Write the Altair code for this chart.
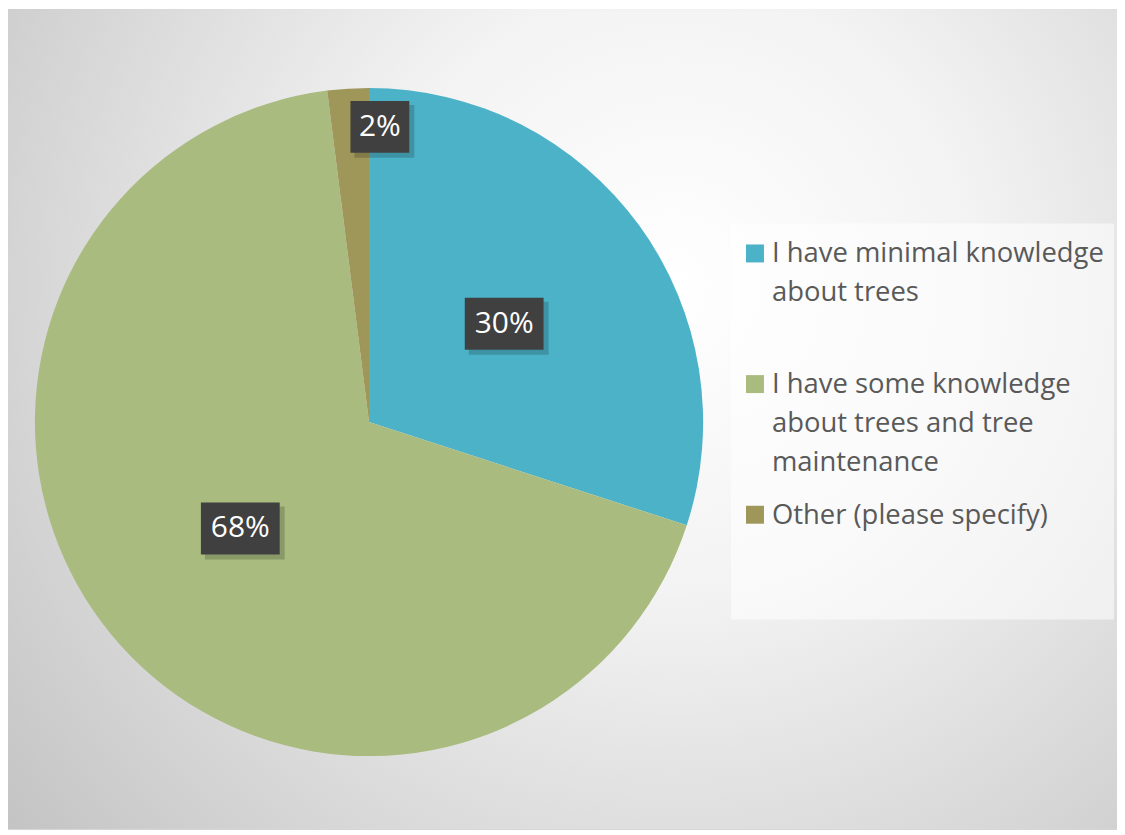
import math
import altair as alt
import pandas as pd

# ---- data ----
categories = [
    "I have minimal knowledge about trees",
    "I have some knowledge about trees and tree maintenance",
    "Other (please specify)",
]
legend_text = [
    "I have minimal knowledge\nabout trees",
    "I have some knowledge\nabout trees and tree\nmaintenance",
    "Other (please specify)",
]
shares = [30, 68, 2]
colors = ["#4BB2C8", "#A9BB7F", "#9F965A"]

# ---- layout ----
W, H = 1112, 822
CX, CY, R = 362, 414, 335
FONT = "Open Sans"

pie_df = pd.DataFrame({"cat": categories, "share": shares, "idx": list(range(len(shares)))})

# label boxes derived from slice angles
rows = []
cum = 0
for i, (c, s) in enumerate(zip(categories, shares)):
    mid = (cum + s / 2) / 100.0
    cum += s
    ang = mid * 2 * math.pi
    rf = 0.5 if s >= 5 else 0.885
    lx = CX + R * rf * math.sin(ang)
    ly = CY - R * rf * math.cos(ang)
    txt = f"{s}%"
    w = 19 + 20 * len(txt)
    h = 52
    if s < 5:
        lx += w / 2
    rows.append(dict(txt=txt, lx=lx, ly=ly, x1=lx - w / 2, x2=lx + w / 2,
                     y1=ly - h / 2, y2=ly + h / 2,
                     sx1=lx - w / 2 + 4, sx2=lx + w / 2 + 5,
                     sy1=ly - h / 2 + 4, sy2=ly + h / 2 + 5))
lab_df = pd.DataFrame(rows)

LEG_X_SQ, LEG_X_TXT, LEG_Y0, LEG_STEP = 749, 766, 254, 131
leg_df = pd.DataFrame({
    "cat": categories,
    "txt": legend_text,
    "sx": [LEG_X_SQ] * 3,
    "tx": [LEG_X_TXT] * 3,
    "base": [LEG_Y0 + i * LEG_STEP for i in range(3)],
    "sq": [LEG_Y0 + i * LEG_STEP - 9 for i in range(3)],
})

xs = alt.Scale(domain=[0, W], nice=False, zero=False)
ys = alt.Scale(domain=[0, H], nice=False, zero=False, reverse=True)
cs = alt.Scale(domain=categories, range=colors)

one = pd.DataFrame({"a": [0]})

bg = alt.Chart(one).mark_rect(
    color={
        "gradient": "radial",
        "x1": 0.6, "y1": 0.38, "r1": 0,
        "x2": 0.6, "y2": 0.38, "r2": 0.78,
        "stops": [
            {"offset": 0, "color": "#ffffff"},
            {"offset": 0.35, "color": "#f3f3f3"},
            {"offset": 1, "color": "#c3c3c3"},
        ],
    }
).encode(x=alt.value(0), x2=alt.value(W), y=alt.value(0), y2=alt.value(H))

pie = alt.Chart(pie_df).mark_arc(outerRadius=R).encode(
    theta=alt.Theta("share:Q", stack=True),
    order=alt.Order("idx:Q"),
    color=alt.Color("cat:N", scale=cs, legend=None),
    x=alt.value(CX),
    y=alt.value(CY),
)

shadow = alt.Chart(lab_df).mark_rect(color="#000000", opacity=0.18).encode(
    x=alt.X("sx1:Q", scale=xs, axis=None), x2="sx2:Q",
    y=alt.Y("sy1:Q", scale=ys, axis=None), y2="sy2:Q",
)
box = alt.Chart(lab_df).mark_rect(color="#404040").encode(
    x=alt.X("x1:Q", scale=xs, axis=None), x2="x2:Q",
    y=alt.Y("y1:Q", scale=ys, axis=None), y2="y2:Q",
)
labels = alt.Chart(lab_df).mark_text(
    color="#ffffff", font=FONT, fontSize=30, align="center", baseline="middle"
).encode(
    x=alt.X("lx:Q", scale=xs, axis=None),
    y=alt.Y("ly:Q", scale=ys, axis=None),
    text="txt:N",
)

leg_box = alt.Chart(one).mark_rect(color="#ffffff", opacity=0.55).encode(
    x=alt.value(725), x2=alt.value(1109), y=alt.value(215), y2=alt.value(612)
)
leg_sq = alt.Chart(leg_df).mark_square(size=324, opacity=1).encode(
    x=alt.X("sx:Q", scale=xs, axis=None),
    y=alt.Y("sq:Q", scale=ys, axis=None),
    color=alt.Color("cat:N", scale=cs, legend=None),
)
leg_txt = alt.Chart(leg_df).mark_text(
    font=FONT, fontSize=27.5, color="#595959", align="left", baseline="alphabetic",
    lineBreak="\n", lineHeight=39,
).encode(
    x=alt.X("tx:Q", scale=xs, axis=None),
    y=alt.Y("base:Q", scale=ys, axis=None),
    text="txt:N",
)

chart = alt.layer(bg, pie, shadow, box, labels, leg_box, leg_sq, leg_txt).properties(
    width=W, height=H, padding=0, autosize="none", background="#ffffff"
).configure_view(stroke="#d0d0d0", strokeWidth=1)

chart.save("out.html", embed_options={"renderer": "svg", "actions": False})
